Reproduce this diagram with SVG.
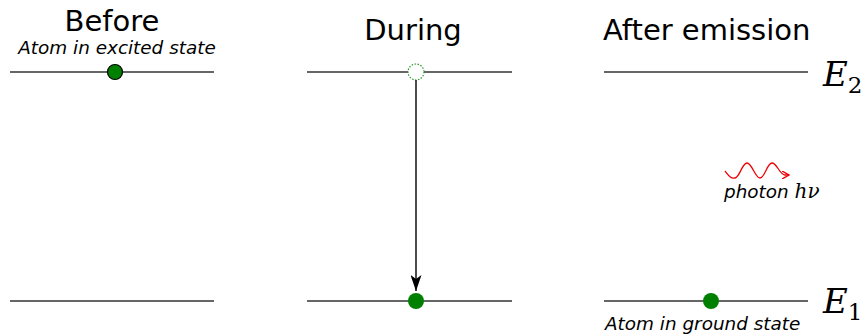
<svg xmlns="http://www.w3.org/2000/svg" width="866" height="336" viewBox="0 0 866 336">
<style>
.title{font-family:"DejaVu Sans",sans-serif;font-size:29px;fill:#000}
.lab{font-family:"DejaVu Sans",sans-serif;font-size:18.4px;font-style:italic;fill:#000}
.e{font-family:"DejaVu Serif","Liberation Serif",serif;font-size:34px;font-style:italic;fill:#000}
.sub{font-family:"DejaVu Serif","Liberation Serif",serif;font-size:23px;fill:#000}
.lvl{stroke:#333;stroke-width:1.6;fill:none}
</style>
<defs>
<marker id="ah" markerWidth="16" markerHeight="11" refX="16" refY="5.5" orient="auto" markerUnits="userSpaceOnUse" viewBox="0 0 16 11"><path d="M0,0 L16,5.5 L0,11 L4,5.5 Z" fill="#000"/></marker>
<marker id="rh" markerWidth="8" markerHeight="8" refX="7" refY="4" orient="auto" markerUnits="userSpaceOnUse" viewBox="0 0 8 8"><path d="M0,0 L7,4 L0,8" fill="none" stroke="#e00" stroke-width="1.4"/></marker>
</defs>
<g id="before">
<text class="title" x="112" y="31" text-anchor="middle">Before</text>
<text class="lab" x="117" y="54" text-anchor="middle">Atom in excited state</text>
<line class="lvl" x1="10" y1="72" x2="214" y2="72"/>
<line class="lvl" x1="10" y1="301" x2="214" y2="301"/>
<circle cx="115" cy="72" r="7.5" fill="#008000" stroke="#000" stroke-width="1.2"/>
</g>
<g id="during">
<text class="title" x="413" y="40" text-anchor="middle">During</text>
<line class="lvl" x1="307" y1="72" x2="512" y2="72"/>
<line class="lvl" x1="307" y1="301" x2="512" y2="301"/>
<circle cx="416" cy="72" r="8" fill="#fff" stroke="#2a9a2a" stroke-width="1.2" stroke-dasharray="1.5,1.5"/>
<circle cx="416" cy="301" r="8" fill="#008000"/>
</g>
<g id="after">
<text class="title" x="603" y="40">After emission</text>
<line class="lvl" x1="604" y1="72" x2="808" y2="72"/>
<line class="lvl" x1="604" y1="301" x2="808" y2="301"/>
<circle cx="711" cy="301" r="8" fill="#008000"/>
<text class="lab" x="605" y="330">Atom in ground state</text>
</g>
<g id="photon">
<path d="M725,171 C729,176 731,179 735,178 C740,177 742,163 747,163 C752,163 755,178 760,178 C765,178 767,163 772,163 C777,163 779,174 785,175 L789,175" fill="none" stroke="#e00" stroke-width="1.3" marker-end="url(#rh)"/>
<text class="lab" x="724" y="198">photon <tspan font-family="DejaVu Serif,serif" font-size="20">hν</tspan></text>
</g>
<g id="labels">
<text class="e" x="823" y="86">E<tspan class="sub" dy="7" font-style="normal">2</tspan></text>
<text class="e" x="823" y="313">E<tspan class="sub" dy="7" font-style="normal">1</tspan></text>
</g>
<g id="connectors">
<line x1="416" y1="80" x2="416" y2="291" stroke="#000" stroke-width="1.4" marker-end="url(#ah)"/>
</g>
</svg>
